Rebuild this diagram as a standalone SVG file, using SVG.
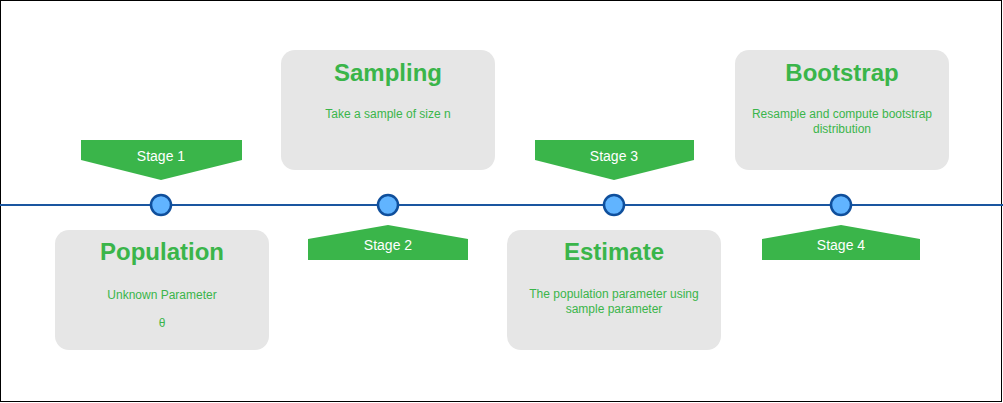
<svg xmlns="http://www.w3.org/2000/svg" width="1003" height="403" viewBox="0 0 1003 403">
<style>
.box{fill:#e6e6e6}
.t{font-family:"Liberation Sans",Arial,sans-serif;fill:#3ab54a;text-anchor:middle}
.h{font-size:24px;font-weight:bold}
.b{font-size:12px}
.tag{fill:#3ab54a}
.tl{font-family:"Liberation Sans",Arial,sans-serif;fill:#fff;font-size:14px;text-anchor:middle}
.dot{fill:#61b4ff;stroke:#0f4f9c;stroke-width:2.5}
</style>
<rect x="0.5" y="0.5" width="1001" height="401" fill="#fff" stroke="#000"/>
<g id="connectors"><line x1="0" y1="205" x2="1003" y2="205" stroke="#1a56a0" stroke-width="2"/></g>
<g id="population"><rect class="box" x="55" y="230" width="214" height="120" rx="14"/><text class="t h" x="162" y="260">Population</text><text class="t b" x="162" y="299">Unknown Parameter</text><text class="t b" x="162" y="327">θ</text></g>
<g id="sampling"><rect class="box" x="281" y="50" width="214" height="120" rx="14"/><text class="t h" x="388" y="81">Sampling</text><text class="t b" x="388" y="118">Take a sample of size n</text></g>
<g id="estimate"><rect class="box" x="507" y="230" width="214" height="120" rx="14"/><text class="t h" x="614" y="260">Estimate</text><text class="t b" x="614" y="298">The population parameter using</text><text class="t b" x="614" y="313">sample parameter</text></g>
<g id="bootstrap"><rect class="box" x="735" y="50" width="214" height="120" rx="14"/><text class="t h" x="842" y="81">Bootstrap</text><text class="t b" x="842" y="118">Resample and compute bootstrap</text><text class="t b" x="842" y="133">distribution</text></g>
<g id="stage1"><polygon class="tag" points="81,140 242,140 242,160 161,180 81,160"/><text class="tl" x="161" y="161">Stage 1</text></g>
<g id="stage2"><polygon class="tag" points="308,260 468,260 468,239 388,225 308,239"/><text class="tl" x="388" y="250">Stage 2</text></g>
<g id="stage3"><polygon class="tag" points="535,140 694,140 694,160 614,180 535,160"/><text class="tl" x="614" y="161">Stage 3</text></g>
<g id="stage4"><polygon class="tag" points="762,260 920,260 920,239 841,225 762,239"/><text class="tl" x="841" y="250">Stage 4</text></g>
<g id="dots"><circle class="dot" cx="161" cy="205" r="10"/><circle class="dot" cx="388" cy="205" r="10"/><circle class="dot" cx="614" cy="205" r="10"/><circle class="dot" cx="841" cy="205" r="10"/></g>
</svg>
